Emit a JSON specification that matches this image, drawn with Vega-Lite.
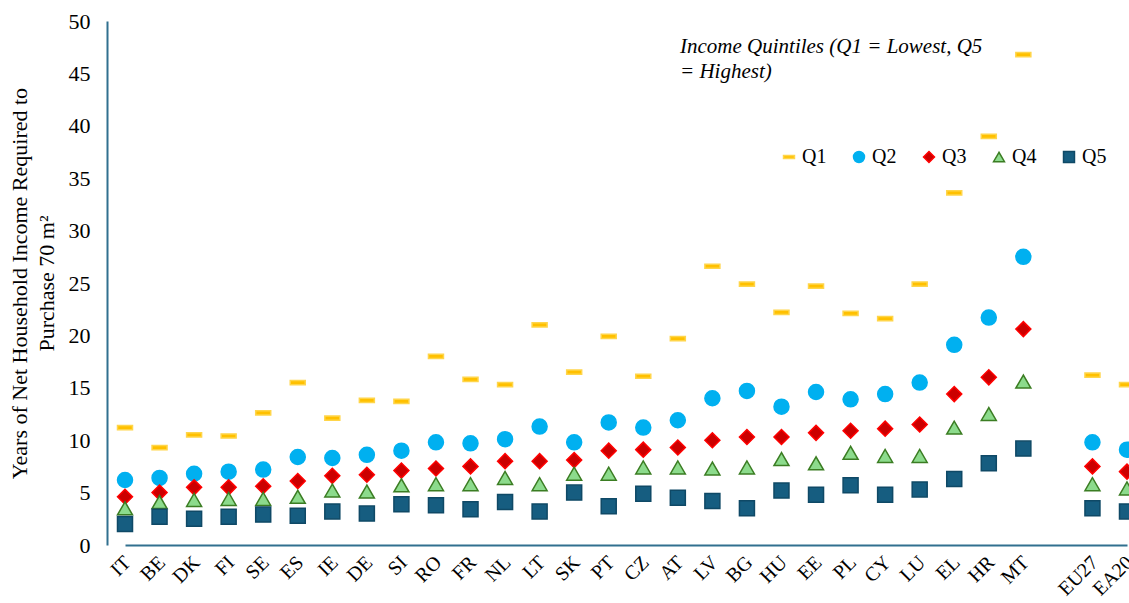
{
  "$schema": "https://vega.github.io/schema/vega-lite/v6.json",
  "autosize": "none",
  "width": 1022,
  "height": 524,
  "padding": {"left": 107, "top": 21, "right": 0, "bottom": 58},
  "background": "white",
  "title": {
    "text": ["Income Quintiles (Q1 = Lowest, Q5", "= Highest)"],
    "anchor": "start", "frame": "group", "orient": "top", "offset": 0, "dx": 573, "dy": 72,
    "font": "Liberation Serif", "fontStyle": "italic", "fontWeight": "normal", "fontSize": 21, "lineHeight": 25, "color": "#000000", "limit": 0
  },
  "data": {
    "values": [
      {"c": "IT", "Q1": 11.2, "Q2": 6.2, "Q3": 4.6, "Q4": 3.5, "Q5": 2.0},
      {"c": "BE", "Q1": 9.3, "Q2": 6.4, "Q3": 5.0, "Q4": 4.1, "Q5": 2.7},
      {"c": "DK", "Q1": 10.5, "Q2": 6.8, "Q3": 5.5, "Q4": 4.3, "Q5": 2.5},
      {"c": "FI", "Q1": 10.4, "Q2": 7.0, "Q3": 5.5, "Q4": 4.4, "Q5": 2.7},
      {"c": "SE", "Q1": 12.6, "Q2": 7.2, "Q3": 5.6, "Q4": 4.4, "Q5": 2.9},
      {"c": "ES", "Q1": 15.5, "Q2": 8.4, "Q3": 6.1, "Q4": 4.6, "Q5": 2.8},
      {"c": "IE", "Q1": 12.1, "Q2": 8.3, "Q3": 6.6, "Q4": 5.2, "Q5": 3.2},
      {"c": "DE", "Q1": 13.8, "Q2": 8.6, "Q3": 6.7, "Q4": 5.1, "Q5": 3.0},
      {"c": "SI", "Q1": 13.7, "Q2": 9.0, "Q3": 7.1, "Q4": 5.7, "Q5": 3.9},
      {"c": "RO", "Q1": 18.0, "Q2": 9.8, "Q3": 7.3, "Q4": 5.8, "Q5": 3.8},
      {"c": "FR", "Q1": 15.8, "Q2": 9.7, "Q3": 7.5, "Q4": 5.8, "Q5": 3.4},
      {"c": "NL", "Q1": 15.3, "Q2": 10.1, "Q3": 8.0, "Q4": 6.4, "Q5": 4.1},
      {"c": "LT", "Q1": 21.0, "Q2": 11.3, "Q3": 8.0, "Q4": 5.8, "Q5": 3.2},
      {"c": "SK", "Q1": 16.5, "Q2": 9.8, "Q3": 8.1, "Q4": 6.8, "Q5": 5.0},
      {"c": "PT", "Q1": 19.9, "Q2": 11.7, "Q3": 9.0, "Q4": 6.8, "Q5": 3.7},
      {"c": "CZ", "Q1": 16.1, "Q2": 11.2, "Q3": 9.1, "Q4": 7.4, "Q5": 4.9},
      {"c": "AT", "Q1": 19.7, "Q2": 11.9, "Q3": 9.3, "Q4": 7.4, "Q5": 4.5},
      {"c": "LV", "Q1": 26.6, "Q2": 14.0, "Q3": 10.0, "Q4": 7.3, "Q5": 4.2},
      {"c": "BG", "Q1": 24.9, "Q2": 14.7, "Q3": 10.3, "Q4": 7.4, "Q5": 3.5},
      {"c": "HU", "Q1": 22.2, "Q2": 13.2, "Q3": 10.3, "Q4": 8.2, "Q5": 5.2},
      {"c": "EE", "Q1": 24.7, "Q2": 14.6, "Q3": 10.7, "Q4": 7.8, "Q5": 4.8},
      {"c": "PL", "Q1": 22.1, "Q2": 13.9, "Q3": 10.9, "Q4": 8.8, "Q5": 5.7},
      {"c": "CY", "Q1": 21.6, "Q2": 14.4, "Q3": 11.1, "Q4": 8.5, "Q5": 4.8},
      {"c": "LU", "Q1": 24.9, "Q2": 15.5, "Q3": 11.5, "Q4": 8.5, "Q5": 5.3},
      {"c": "EL", "Q1": 33.6, "Q2": 19.1, "Q3": 14.4, "Q4": 11.2, "Q5": 6.3},
      {"c": "HR", "Q1": 39.0, "Q2": 21.7, "Q3": 16.0, "Q4": 12.5, "Q5": 7.8},
      {"c": "MT", "Q1": 46.8, "Q2": 27.5, "Q3": 20.6, "Q4": 15.6, "Q5": 9.2},
      {"c": "EU27", "Q1": 16.2, "Q2": 9.8, "Q3": 7.5, "Q4": 5.8, "Q5": 3.5},
      {"c": "EA20", "Q1": 15.3, "Q2": 9.1, "Q3": 7.0, "Q4": 5.4, "Q5": 3.2}
    ]
  },
  "transform": [{"fold": ["Q1", "Q2", "Q3", "Q4", "Q5"], "as": ["q", "v"]}],
  "mark": {"type": "point", "filled": true, "opacity": 1, "size": 225, "strokeWidth": 1.5},
  "encoding": {
    "x": {
      "field": "c", "type": "nominal", "sort": null,
      "scale": {"type": "point", "padding": 0, "domain": ["IT","BE","DK","FI","SE","ES","IE","DE","SI","RO","FR","NL","LT","SK","PT","CZ","AT","LV","BG","HU","EE","PL","CY","LU","EL","HR","MT"," ","EU27","EA20"], "range": [18, 1020]},
      "axis": {"title": null, "labelAngle": -45, "ticks": false, "grid": false, "labelPadding": 7, "labelOffset": -5, "labelFontSize": 20, "labelFont": "Liberation Serif", "labelColor": "#000000", "domainColor": "#31708F", "domainWidth": 2}
    },
    "y": {
      "field": "v", "type": "quantitative",
      "scale": {"domain": [0, 50], "nice": false},
      "axis": {
        "title": ["Years of Net Household Income Required to", "Purchase 70 m²"],
        "titleFont": "Liberation Serif", "titleFontSize": 22, "titleFontWeight": "normal", "titleColor": "#000000", "titlePadding": 10, "titleLineHeight": 27,
        "values": [0,5,10,15,20,25,30,35,40,45,50],
        "ticks": false, "grid": false, "labelPadding": 17, "labelFontSize": 22, "labelFont": "Liberation Serif", "labelColor": "#000000", "domainColor": "#31708F", "domainWidth": 2
      }
    },
    "shape": {
      "field": "q", "type": "nominal",
      "scale": {"domain": ["Q1","Q2","Q3","Q4","Q5"], "range": ["M-1,-0.28H1V0.28H-1Z", "circle", "diamond", "triangle-up", "square"]}
    },
    "stroke": {
      "field": "q", "type": "nominal",
      "scale": {"domain": ["Q1","Q2","Q3","Q4","Q5"], "range": ["#FFD54A", "#00B0F0", "#FF0000", "#3B7D23", "#0F4966"]}
    },
    "fill": {
      "field": "q", "type": "nominal",
      "scale": {"domain": ["Q1","Q2","Q3","Q4","Q5"], "range": ["#FFC000", "#00B0F0", "#CC0000", "#8CDB8C", "#165D80"]},
      "legend": {
        "orient": "none", "legendX": 672, "legendY": 126, "direction": "horizontal", "columns": 5,
        "title": null,
        "labelFont": "Liberation Serif", "labelFontSize": 20, "labelColor": "#000000", "labelOffset": 3,
        "symbolSize": 120, "symbolStrokeWidth": 1.5, "columnPadding": 22, "padding": 0
      }
    }
  },
  "config": {"view": {"stroke": null}}
}
